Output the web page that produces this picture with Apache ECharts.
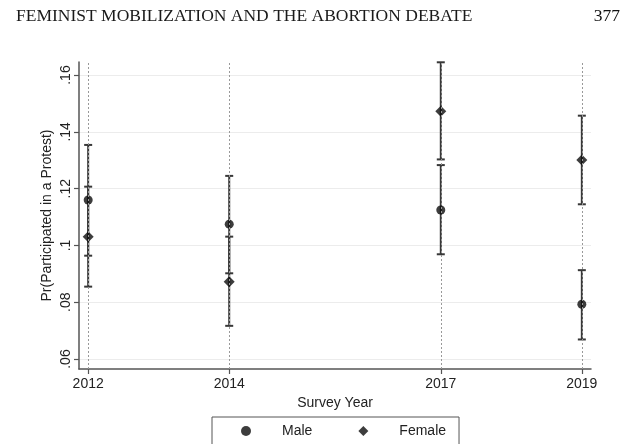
<!DOCTYPE html>
<html>
<head>
<meta charset="utf-8">
<script src="https://cdn.jsdelivr.net/npm/echarts@6/dist/echarts.min.js"></script>
<style>
  html, body { margin: 0; padding: 0; background: #fff; }
  #chart { width: 621px; height: 444px; }
</style>
</head>
<body>
<div id="chart"></div>
<script>
// Survey waves
const years = [2012, 2014, 2017, 2019];

// Predicted probability of protest participation with 95% CIs
const maleEst = [0.1160, 0.1075, 0.1125, 0.0793];
const maleLo  = [0.0964, 0.0902, 0.0969, 0.0669];
const maleHi  = [0.1354, 0.1245, 0.1283, 0.0913];

const femaleEst = [0.1031, 0.0872, 0.1473, 0.1301];
const femaleLo  = [0.0855, 0.0717, 0.1303, 0.1145];
const femaleHi  = [0.1207, 0.1031, 0.1645, 0.1457];

// Axis ticks
const yTicks = [0.06, 0.08, 0.10, 0.12, 0.14, 0.16];
const yTickLabels = ['.06', '.08', '.1', '.12', '.14', '.16'];

const font = 'Liberation Sans, Arial, Helvetica, sans-serif';
const serif = 'Liberation Serif, Times New Roman, serif';
const ink = '#222';
const barColor = '#383838';

function ciItem(params, api) {
  const x = api.value(0);
  const pLo = api.coord([x, api.value(1)]);
  const pHi = api.coord([x, api.value(2)]);
  const cw = 4;
  const style = { stroke: barColor, lineWidth: 2 };
  return {
    type: 'group',
    children: [
      { type: 'line', shape: { x1: pLo[0], y1: pLo[1], x2: pHi[0], y2: pHi[1] }, style: style },
      { type: 'line', shape: { x1: pLo[0] - cw, y1: pLo[1], x2: pLo[0] + cw, y2: pLo[1] }, style: style },
      { type: 'line', shape: { x1: pHi[0] - cw, y1: pHi[1], x2: pHi[0] + cw, y2: pHi[1] }, style: style }
    ]
  };
}

const chart = echarts.init(document.getElementById('chart'), null, { renderer: 'canvas' });

chart.setOption({
  animation: false,
  backgroundColor: '#fff',
  textStyle: { fontFamily: font, color: ink },
  graphic: [
    {
      type: 'text', left: 16, top: 7,
      style: { text: 'FEMINIST MOBILIZATION AND THE ABORTION DEBATE', font: '17.5px ' + serif, fill: '#1a1a1a' }
    },
    {
      type: 'text', right: 1, top: 7,
      style: { text: '377', font: '17.5px ' + serif, fill: '#111' }
    }
  ],
  grid: { left: 79, right: 30, top: 62, bottom: 75 },
  xAxis: {
    type: 'value',
    min: 2011.87,
    max: 2019.13,
    name: 'Survey Year',
    nameLocation: 'middle',
    nameGap: 25,
    nameTextStyle: { fontSize: 14, color: ink, fontFamily: font },
    axisLine: { show: true, onZero: false, lineStyle: { color: '#555', width: 1.5 } },
    axisTick: { show: true, length: 5, customValues: years, lineStyle: { color: '#555', width: 1.2 } },
    axisLabel: {
      customValues: years, fontSize: 14, color: ink, margin: 8, fontFamily: font,
      formatter: function (v) { return String(Math.round(v)); }
    },
    splitLine: { show: false }
  },
  yAxis: {
    type: 'value',
    min: 0.0565,
    max: 0.1646,
    name: 'Pr(Participated in a Protest)',
    nameLocation: 'middle',
    nameGap: 25,
    nameMoveOverlap: false,
    nameTextStyle: { fontSize: 14, color: ink, fontFamily: font },
    axisLine: { show: true, onZero: false, lineStyle: { color: '#555', width: 1.5 } },
    axisTick: { show: true, length: 5, customValues: yTicks, lineStyle: { color: '#555', width: 1.2 } },
    axisLabel: {
      customValues: yTicks,
      rotate: 90,
      fontSize: 14,
      color: ink,
      margin: 6,
      fontFamily: font,
      formatter: function (v) {
        const i = yTicks.findIndex(t => Math.abs(t - v) < 1e-9);
        return i >= 0 ? yTickLabels[i] : '';
      }
    },
    splitLine: { show: true, lineStyle: { color: '#ececec', width: 1 } }
  },
  legend: {
    data: ['Male', 'Female'],
    left: 212,
    top: 417,
    orient: 'horizontal',
    itemWidth: 10,
    itemHeight: 10,
    itemGap: 46,
    padding: [7, 13, 16, 29],
    borderColor: '#555',
    borderWidth: 1,
    backgroundColor: '#fff',
    formatter: '{t|{name}}',
    textStyle: {
      fontFamily: font,
      fontSize: 14,
      color: ink,
      rich: { t: { fontFamily: font, fontSize: 14, color: ink, padding: [0, 0, 0, 26] } }
    }
  },
  series: [
    {
      // dotted reference lines at each survey year
      name: 'years',
      type: 'line',
      data: [],
      silent: true,
      z: 1,
      markLine: {
        silent: true,
        symbol: 'none',
        label: { show: false },
        lineStyle: { color: '#999', type: [2, 2], width: 1 },
        data: years.map(y => ({ xAxis: y }))
      }
    },
    {
      name: 'Male CI',
      type: 'custom',
      renderItem: ciItem,
      z: 2,
      data: years.map((y, i) => [y, maleLo[i], maleHi[i]])
    },
    {
      name: 'Female CI',
      type: 'custom',
      renderItem: ciItem,
      z: 2,
      data: years.map((y, i) => [y, femaleLo[i], femaleHi[i]])
    },
    {
      name: 'Male',
      type: 'scatter',
      symbol: 'circle',
      symbolSize: 9,
      z: 3,
      itemStyle: { color: '#0d0d0d' },
      data: years.map((y, i) => [y, maleEst[i]])
    },
    {
      name: 'Female',
      type: 'scatter',
      symbol: 'diamond',
      symbolSize: 11,
      z: 3,
      itemStyle: { color: '#0d0d0d' },
      data: years.map((y, i) => [y, femaleEst[i]])
    }
  ]
});
</script>
</body>
</html>
